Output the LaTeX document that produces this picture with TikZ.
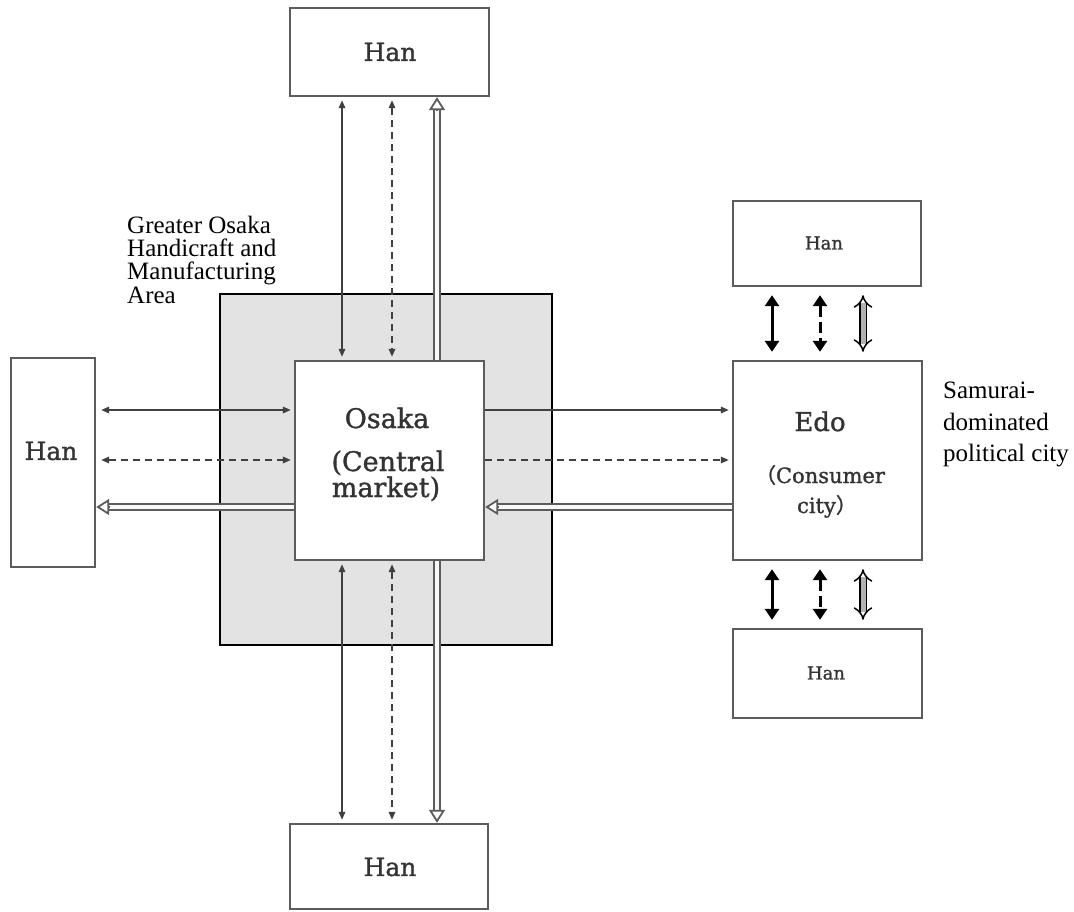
\documentclass[tikz,border=0pt]{standalone}
\usepackage{fontspec}
\setmainfont{Liberation Serif}
\newfontfamily\boxfont[FakeBold=1.2]{DejaVu Serif}
\newfontfamily\widefont[FakeBold=1.2]{Noto Sans CJK JP}
\usetikzlibrary{arrows.meta,calc}

\definecolor{boxline}{HTML}{5C5C5C}
\definecolor{areafill}{HTML}{E3E3E3}
\definecolor{ink}{HTML}{333333}
\definecolor{flow}{HTML}{404040}

\tikzset{
  hanbox/.style={draw=boxline, line width=2.4pt, fill=white, inner sep=0pt},
  areabox/.style={draw=black, line width=1.4pt, fill=areafill, inner sep=0pt},
  boxtext/.style={font=\boxfont\fontsize{25}{25}\selectfont, text=ink, inner sep=0pt},
  smalltext/.style={font=\boxfont\fontsize{18}{18}\selectfont, text=ink, inner sep=0pt},
  sidetext/.style={font=\fontsize{25}{25}\selectfont, text=black, inner sep=0pt, anchor=base west},
  % thin two-way flows around Osaka
  goods/.style={draw=flow, line width=1.7pt,
    {Triangle[length=8pt,width=6.5pt]}-{Triangle[length=8pt,width=6.5pt]},
    shorten <=3pt, shorten >=3pt},
  goodsone/.style={draw=flow, line width=1.7pt, -{Triangle[length=8pt,width=6.5pt]},
    shorten >=3pt},
  dashedflow/.style={dash pattern=on 7pt off 5pt},
  % hollow money flow: double shaft plus open head
  hollowshaft/.style={draw=boxline, line width=2pt, double=white!75!areafill, double distance=4pt},
  hollowtip/.style={draw=boxline, line width=1.8pt,
    -{Triangle[open, fill=white, length=13pt, width=16pt]}},
  % heavy flows around Edo
  heavy/.style={draw=black, line width=3pt,
    {Triangle[length=11pt,width=14pt]}-{Triangle[length=11pt,width=14pt]},
    shorten <=8pt, shorten >=8pt},
  heavydash/.style={dash pattern=on 11pt off 5pt},
  heavydouble/.style={draw=black, line width=1.5pt, double=gray!60, double distance=5pt,
    {Implies}-{Implies}, shorten <=8pt, shorten >=8pt}
}

\begin{document}
\begin{tikzpicture}[x=1pt,y=-1pt]
\useasboundingbox (0,0) rectangle (1074,911);

% columns and rows of the flow lines
\coordinate (colA) at (342,0);
\coordinate (colB) at (392,0);
\coordinate (colC) at (437,0);
\coordinate (rowA) at (0,410);
\coordinate (rowB) at (0,460);
\coordinate (rowC) at (0,507);
\coordinate (ecolA) at (772,0);
\coordinate (ecolB) at (820,0);
\coordinate (ecolC) at (863,0);

% Greater Osaka area
\node[areabox, minimum width=332pt, minimum height=351pt] (area) at (386,469.5) {};

% boxes
\node[hanbox, minimum width=199pt, minimum height=88pt] (hanT) at (389.5,52) {};
\node[hanbox, minimum width=198pt, minimum height=85pt] (hanB) at (389,866.5) {};
\node[hanbox, minimum width=84pt, minimum height=209pt] (hanL) at (53,462.5) {};
\node[hanbox, minimum width=189pt, minimum height=199pt] (osaka) at (389.5,460.5) {};
\node[hanbox, minimum width=189pt, minimum height=199pt] (edo) at (827.5,460.5) {};
\node[hanbox, minimum width=188pt, minimum height=85pt] (hanRT) at (827,243.5) {};
\node[hanbox, minimum width=189pt, minimum height=89pt] (hanRB) at (827.5,673.5) {};

% box labels
\node[boxtext] (hanTtext) at (390,52) {Han};
\node[boxtext] (hanBtext) at (390,867) {Han};
\node[boxtext] (hanLtext) at (51,451) {Han};
\node[smalltext] (hanRTtext) at (824,243) {Han};
\node[smalltext] (hanRBtext) at (826,673) {Han};
\node[boxtext, font=\boxfont\fontsize{27}{27}\selectfont, anchor=base] (osakaA) at (387,428) {Osaka};
\node[boxtext, font=\boxfont\fontsize{27}{27}\selectfont, anchor=base] (osakaB) at (388,471) {(Central};
\node[boxtext, font=\boxfont\fontsize{27}{27}\selectfont, anchor=base] (osakaC) at (386,497) {market)};
\node[boxtext, font=\boxfont\fontsize{26}{26}\selectfont, anchor=base] (edoName) at (820,431) {Edo};
\node[boxtext, font=\boxfont\fontsize{21}{21}\selectfont, anchor=base] (edoKind) at (820,483) {{\widefont （}Consumer};
\node[boxtext, font=\boxfont\fontsize{21}{21}\selectfont, anchor=base] (edoCity) at (827,513) {city{\widefont ）}};

% side labels
\node[sidetext] (areaA) at (127,233) {Greater Osaka};
\node[sidetext] (areaB) at (127,256.3) {Handicraft\ and};
\node[sidetext] (areaC) at (127,279.6) {Manufacturing};
\node[sidetext] (areaD) at (127,303) {Area};
\node[sidetext] (samA) at (943,398) {Samurai-};
\node[sidetext] (samB) at (943,430) {dominated};
\node[sidetext] (samC) at (943,461) {political city};

% flows between Osaka and the upper Han
\draw[goods] (hanT.south -| colA) -- (osaka.north -| colA);
\draw[goods, dashedflow] (hanT.south -| colB) -- (osaka.north -| colB);
\draw[hollowshaft] (osaka.north -| colC) -- ($(hanT.south -| colC)+(0,12)$);
\draw[hollowtip] ($(hanT.south -| colC)+(0,13)$) -- (hanT.south -| colC);

% flows between Osaka and the lower Han
\draw[goods] (osaka.south -| colA) -- (hanB.north -| colA);
\draw[goods, dashedflow] (osaka.south -| colB) -- (hanB.north -| colB);
\draw[hollowshaft] (osaka.south -| colC) -- ($(hanB.north -| colC)+(0,-12)$);
\draw[hollowtip] ($(hanB.north -| colC)+(0,-13)$) -- (hanB.north -| colC);

% flows between Osaka and the western Han
\draw[goods, shorten <=5pt] (hanL.east |- rowA) -- (osaka.west |- rowA);
\draw[goods, dashedflow, shorten <=5pt] (hanL.east |- rowB) -- (osaka.west |- rowB);
\draw[hollowshaft] (osaka.west |- rowC) -- ($(hanL.east |- rowC)+(12,0)$);
\draw[hollowtip] ($(hanL.east |- rowC)+(13,0)$) -- (hanL.east |- rowC);

% flows between Osaka and Edo
\draw[goodsone] (osaka.east |- rowA) -- (edo.west |- rowA);
\draw[goodsone, dashedflow] (osaka.east |- rowB) -- (edo.west |- rowB);
\draw[hollowshaft] (edo.west |- rowC) -- ($(osaka.east |- rowC)+(12,0)$);
\draw[hollowtip] ($(osaka.east |- rowC)+(13,0)$) -- (osaka.east |- rowC);

% flows between Edo and its Han
\draw[heavy] (hanRT.south -| ecolA) -- (edo.north -| ecolA);
\draw[heavy, heavydash] (hanRT.south -| ecolB) -- (edo.north -| ecolB);
\draw[heavydouble] (hanRT.south -| ecolC) -- (edo.north -| ecolC);
\draw[heavy] (edo.south -| ecolA) -- (hanRB.north -| ecolA);
\draw[heavy, heavydash] (edo.south -| ecolB) -- (hanRB.north -| ecolB);
\draw[heavydouble] (edo.south -| ecolC) -- (hanRB.north -| ecolC);
\end{tikzpicture}
\end{document}
